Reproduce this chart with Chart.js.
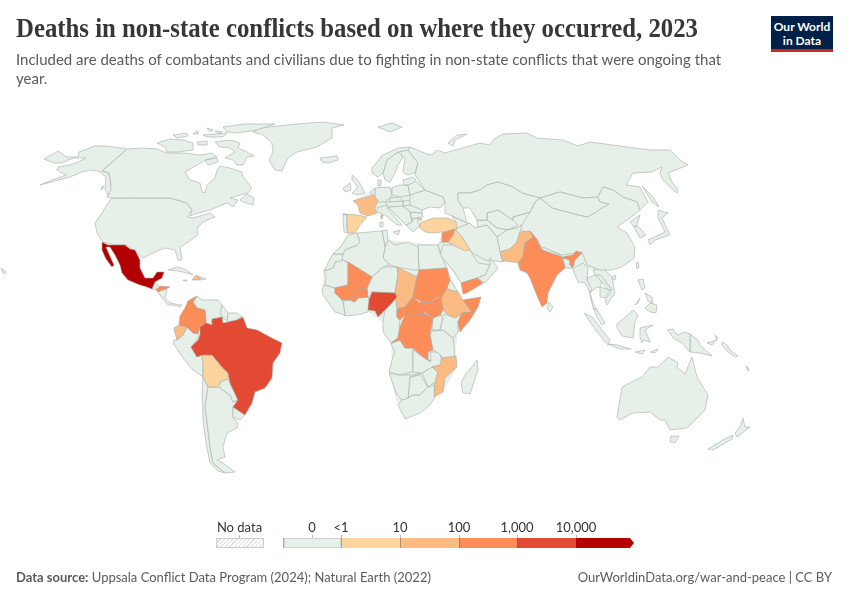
<!DOCTYPE html>
<html>
<head>
<meta charset="utf-8">
<title>Deaths in non-state conflicts</title>
<script src="https://cdn.jsdelivr.net/npm/chart.js@4/dist/chart.umd.min.js"></script>
<style>
  html, body { margin: 0; background: #fff; }
  #page { position: relative; width: 850px; height: 600px; overflow: hidden; font-family: Lato, sans-serif; }
  #map { position: absolute; left: 0; top: 0; }
  .txt { position: absolute; white-space: nowrap; color: #5b5b5b; }
  #title { left: 16px; top: 13px; font: bold 27px "Liberation Serif", serif; color: #373737; transform-origin: left top; }
  #logo { position: absolute; left: 771px; top: 16px; width: 62px; height: 36px; background: #002147; border-bottom: 3px solid #ce261e; box-sizing: border-box; color: #fff; text-align: center; font: bold 12px/13.5px Lato, sans-serif; padding-top: 4px; }
  .tick { position: absolute; transform: translateX(-50%); top: 519px; font-size: 13px; color: #333; white-space: nowrap; }
  .bin { position: absolute; top: 538px; height: 10px; box-sizing: border-box; border-left: 1px solid rgba(90,90,90,.45); }
  .stem { position: absolute; top: 535px; width: 1px; height: 3px; background: #bbb; }
  #nodata { position: absolute; left: 216px; top: 538px; width: 48px; height: 10px; box-sizing: border-box; border: 1px solid #ccc;
    background: repeating-linear-gradient(135deg, #fff, #fff 2px, #ddd 2px, #ddd 3px); }
</style>
</head>
<body>
<div id="page">
  <canvas id="map" width="850" height="600"></canvas>
  <div id="title" class="txt">Deaths in non-state conflicts based on where they occurred, 2023</div>
  <div class="txt" style="left:16px;top:50px;font-size:15px">Included are deaths of combatants and civilians due to fighting in non-state conflicts that were ongoing that</div>
  <div class="txt" style="left:16px;top:69px;font-size:15px">year.</div>
  <div id="logo">Our World<br>in Data</div>
  <div class="txt" style="left:16px;top:569px;font-size:13px"><b>Data source:</b> Uppsala Conflict Data Program (2024); Natural Earth (2022)</div>
  <div class="txt" style="right:18px;top:569px;font-size:13px">OurWorldinData.org/war-and-peace | CC BY</div>
  <div id="legend"></div>
</div>
<script>
// colour bins of the map
const binLabels = ['0', '<1', '10', '100', '1,000', '10,000'];
const binColors = ['#e6f0e8', '#fdd49e', '#fdbb84', '#fc8d59', '#e34a33', '#b30000'];

// outlines, in map units, as [x, y] pairs
// pale backing so no slivers open up between neighbouring countries
const landBacking = [
  [[353,201],[373,190],[392,188],[408,185],[425,190],[443,197],[445,202],[440,208],[430,207],[422,210],[423,217],[418,217],[420,226],[413,232],[406,225],[388,210],[387,205],[377,208]],
  [[458,193],[540,198],[609,204],[640,210],[630,218],[617,227],[635,247],[634,258],[612,270],[593,270],[588,268],[573,270],[565,268],[562,257],[533,237],[520,232],[500,252],[478,228],[477,220],[470,208],[463,208]],
  [[455,229],[478,228],[500,252],[503,262],[490,258],[498,268],[485,283],[461,283],[440,255],[438,245],[442,233]],
  [[348,235],[387,230],[388,240],[408,242],[438,245],[447,268],[458,292],[463,300],[481,297],[470,320],[458,332],[455,357],[457,367],[443,392],[435,397],[430,405],[405,419],[398,405],[389,373],[392,360],[391,343],[383,332],[383,322],[368,312],[345,316],[335,312],[322,290],[324,271],[333,254]]
];
const landNone = [
  // Alaska
  [[40,185],[52,180],[66,175],[60,172],[57,170],[58,167],[70,165],[78,162],[86,158],[75,158],[68,160],[62,163],[54,163],[44,159],[55,153],[58,151],[65,156],[67,157],[78,157],[79,152],[95,146],[107,146],[127,149],[102,171],[108,173],[110,178],[111,190],[108,195],[105,189],[106,177],[98,171],[90,170],[82,172],[70,177],[55,181]],
  // Canada
  [[127,149],[143,148],[157,149],[167,153],[183,153],[200,155],[212,153],[217,157],[205,160],[197,165],[185,172],[190,180],[200,183],[202,192],[205,193],[207,185],[215,178],[217,170],[220,166],[230,168],[242,172],[243,177],[252,188],[248,193],[237,196],[230,198],[238,200],[233,207],[227,203],[222,205],[220,206],[210,210],[195,214],[190,216],[192,210],[187,203],[170,198],[112,198],[107,197],[109,193],[111,185],[109,173],[102,171]],
  // Arctic islands
  [[215,142],[230,140],[240,143],[238,148],[247,152],[254,156],[247,157],[243,165],[237,165],[233,160],[225,158],[235,152],[230,148],[220,147]],
  [[157,143],[170,139],[183,140],[193,143],[193,150],[177,152],[167,152],[165,147]],
  [[173,135],[187,133],[188,136],[177,138]],
  [[223,127],[243,124],[275,124],[257,130],[237,133],[227,132]],
  [[203,135],[227,133],[223,137],[207,137]],
  [[197,142],[207,141],[207,145],[198,145]],
  [[195,132],[198,131],[198,134],[193,134]],
  [[207,128],[213,130],[210,132]],
  [[215,131],[222,132],[220,134]],
  [[205,160],[217,158],[218,162],[208,165]],
  // Newfoundland, Vancouver Island
  [[240,200],[247,194],[254,198],[253,205],[243,202]],
  [[102,186],[104,187],[101,190]],
  // Greenland, Iceland
  [[253,132],[260,128],[297,124],[323,122],[344,125],[332,128],[332,138],[317,147],[297,152],[288,158],[282,171],[275,170],[269,160],[273,152],[272,143],[263,135]],
  [[320,158],[337,156],[338,160],[328,163],[322,162]],
  // United States
  [[112,198],[170,198],[187,203],[192,210],[187,217],[193,218],[210,213],[215,217],[203,222],[197,228],[198,235],[187,243],[180,247],[182,260],[178,260],[175,250],[165,248],[155,252],[143,258],[137,253],[127,245],[115,245],[103,242],[97,233],[95,223],[102,213],[108,203]],
  // Central America and Caribbean
  [[147,287],[153,282],[155,282],[158,285],[156,290],[152,289]],
  [[158,292],[166,289],[167,290],[165,298],[170,303],[175,304],[182,305],[180,307],[173,305],[168,305],[162,298]],
  [[168,270],[177,267],[185,269],[193,275],[187,273],[178,271]],
  [[200,277],[206,279],[200,280]],
  [[183,280],[187,280],[187,281],[184,281]],
  // South America
  [[197,296],[202,300],[218,300],[222,305],[220,313],[223,318],[212,319],[212,325],[206,323],[205,310],[197,308],[193,302]],
  [[222,305],[228,313],[227,321],[223,318],[220,313]],
  [[227,313],[237,313],[242,317],[237,320],[228,322]],
  [[174,340],[177,340],[183,335],[187,327],[193,333],[198,334],[200,335],[191,347],[197,357],[202,355],[203,365],[203,377],[193,370],[183,358],[173,343]],
  [[220,382],[228,379],[230,383],[238,400],[233,402],[230,395],[220,388]],
  [[233,407],[245,415],[240,420],[233,417]],
  [[208,387],[218,387],[220,388],[230,395],[233,402],[238,400],[233,407],[233,417],[238,423],[237,428],[227,433],[223,447],[225,457],[217,460],[223,463],[235,472],[225,473],[213,463],[210,447],[208,430],[205,407]],
  [[203,377],[208,387],[205,407],[208,430],[210,447],[213,463],[225,473],[218,471],[210,463],[206,443],[203,420],[202,393]],
  // North and West Africa
  [[348,235],[357,233],[360,242],[357,245],[345,250],[343,254],[333,254],[341,247]],
  [[333,254],[343,254],[342,261],[335,262],[333,268],[324,271],[328,263]],
  [[324,271],[333,268],[335,262],[341,259],[348,263],[348,285],[335,288],[325,285],[326,277]],
  [[357,245],[360,242],[357,233],[382,231],[385,247],[383,258],[390,265],[383,267],[372,277],[348,262],[341,259],[343,254],[345,250]],
  [[382,231],[387,230],[388,240],[385,247]],
  [[388,240],[395,245],[408,242],[418,247],[419,270],[413,270],[397,267],[390,265],[383,258],[385,247]],
  [[418,245],[438,245],[440,253],[447,268],[419,270]],
  [[325,285],[335,288],[335,293],[342,300],[343,302],[345,315],[335,312],[323,295],[322,290]],
  [[343,301],[350,300],[355,302],[358,298],[368,297],[370,302],[368,312],[357,315],[345,316]],
  [[372,277],[383,267],[397,267],[398,275],[395,293],[372,292],[369,300],[368,297],[367,288]],
  [[390,305],[397,297],[397,308],[397,317],[400,321],[398,338],[391,343],[383,332],[383,322],[385,310]],
  // East and Southern Africa
  [[447,283],[450,280],[458,292],[450,290],[447,288]],
  [[440,315],[448,315],[455,318],[462,313],[458,322],[458,332],[453,338],[443,330],[440,330],[443,318]],
  [[433,318],[440,315],[443,318],[440,330],[432,330]],
  [[432,331],[443,330],[453,338],[455,357],[443,358],[437,352],[433,350],[430,335]],
  [[413,350],[423,357],[431,361],[430,352],[440,352],[442,365],[432,367],[422,373],[413,372],[413,360]],
  [[440,352],[443,358],[440,365],[442,365]],
  [[391,344],[400,340],[405,348],[413,348],[413,372],[400,375],[389,372],[392,360],[395,352]],
  [[389,373],[400,375],[412,375],[422,373],[410,377],[408,398],[402,400],[397,395]],
  [[410,377],[420,375],[428,387],[420,395],[413,395],[408,398]],
  [[422,373],[432,367],[438,372],[435,382],[428,387]],
  [[402,400],[408,398],[413,395],[420,395],[428,387],[434,385],[435,397],[430,405],[420,413],[405,419],[398,405]],
  [[477,360],[478,370],[470,394],[463,393],[461,383],[465,375],[472,367]],
  // Arabian peninsula and neighbours
  [[443,245],[453,245],[470,250],[478,263],[490,265],[485,275],[477,278],[461,283],[453,270],[440,255]],
  [[490,258],[498,268],[485,283],[477,278],[485,275],[490,265]],
  [[442,242],[448,242],[453,245],[443,247],[440,254],[438,245]],
  [[455,229],[470,223],[475,228],[487,225],[497,237],[500,252],[503,262],[485,260],[473,253],[470,250],[462,237]],
  [[452,216],[467,223],[470,224],[455,229],[456,222]],
  // Central and South Asia
  [[497,237],[507,230],[517,228],[522,225],[520,232],[517,242],[510,249],[500,252]],
  [[480,190],[487,185],[498,182],[513,187],[522,193],[540,198],[535,202],[530,212],[513,217],[513,220],[498,210],[487,213],[487,220],[477,220],[470,208],[463,208],[458,200],[458,193],[470,193]],
  [[478,228],[477,220],[487,220],[497,228],[508,230],[497,237],[487,225],[475,228]],
  [[487,220],[487,213],[498,210],[513,220],[518,225],[508,230],[497,228]],
  [[513,217],[530,212],[522,225],[517,228],[508,230],[513,222]],
  [[543,247],[560,255],[562,257],[542,250]],
  [[563,258],[570,260],[570,265],[573,268],[567,268],[565,268]],
  [[549,302],[553,307],[550,312],[547,308]],
  // China, Mongolia
  [[540,198],[552,208],[570,213],[587,217],[595,213],[602,208],[609,204],[600,202],[598,197],[603,187],[613,190],[623,197],[637,202],[640,210],[630,218],[617,227],[627,233],[635,247],[634,258],[622,267],[612,270],[600,270],[587,265],[582,252],[562,255],[543,248],[533,240],[522,230],[512,225],[513,217],[530,212],[535,202]],
  [[540,198],[560,192],[583,198],[598,197],[600,202],[609,204],[602,208],[595,213],[587,217],[570,213],[552,208]],
  // Russia
  [[410,147],[427,154],[432,155],[437,150],[445,153],[462,148],[473,145],[480,143],[490,145],[493,140],[503,134],[527,133],[537,138],[563,140],[578,146],[590,142],[627,147],[650,150],[670,150],[680,160],[688,165],[668,173],[672,182],[678,190],[677,193],[668,185],[663,180],[660,173],[662,167],[652,172],[633,173],[626,185],[640,187],[648,202],[640,210],[637,202],[623,197],[613,190],[603,187],[598,197],[583,198],[560,192],[540,198],[522,193],[513,187],[498,182],[487,185],[480,190],[470,193],[458,193],[458,200],[463,208],[467,223],[452,216],[445,213],[445,202],[443,197],[425,190],[415,175],[418,163],[408,150]],
  [[448,143],[457,135],[467,134],[455,140],[453,146]],
  // Europe
  [[378,127],[392,123],[402,127],[390,132]],
  [[372,168],[383,155],[398,148],[410,147],[408,150],[398,152],[387,160],[383,173],[378,177],[372,173]],
  [[387,160],[398,152],[403,157],[398,165],[395,173],[390,182],[385,180],[383,173]],
  [[398,152],[408,150],[418,163],[415,173],[407,175],[403,172],[405,158]],
  [[352,175],[358,180],[365,193],[357,195],[352,193],[358,187],[352,180]],
  [[343,188],[350,183],[351,190],[345,192]],
  [[378,180],[381,180],[381,186],[378,186]],
  [[403,180],[413,177],[416,180],[415,182],[408,185],[404,185]],
  [[408,185],[415,180],[425,190],[410,195]],
  [[392,188],[398,185],[408,185],[410,195],[400,197],[392,195]],
  [[375,188],[390,187],[392,195],[390,198],[385,202],[375,202]],
  [[370,192],[375,188],[375,200],[373,195]],
  [[410,195],[425,190],[443,197],[445,202],[440,208],[430,207],[422,210],[410,205]],
  [[390,198],[400,197],[403,201],[390,202]],
  [[385,202],[403,201],[403,206],[388,207]],
  [[403,201],[412,200],[410,205],[403,206]],
  [[388,207],[403,206],[410,212],[412,222],[406,225]],
  [[403,206],[410,205],[422,209],[422,213],[410,212]],
  [[410,212],[422,213],[423,217],[412,219]],
  [[412,219],[418,218],[418,223],[420,226],[413,232],[406,225],[412,222]],
  [[377,208],[387,205],[388,210],[402,225],[397,225],[385,215],[378,213]],
  [[393,232],[400,230],[398,235]],
  [[380,222],[383,222],[383,227],[380,227]],
  [[343,214],[347,215],[347,227],[348,233],[344,232],[343,218]],
  // Southeast Asia
  [[576,267],[583,263],[588,268],[587,280],[592,290],[590,292],[585,283],[578,282],[573,270]],
  [[587,278],[595,275],[602,282],[600,287],[595,288],[590,293],[593,303],[597,310],[593,308],[590,295]],
  [[593,270],[603,268],[612,277],[615,293],[607,305],[605,300],[612,290],[603,278],[600,275],[595,275]],
  [[600,287],[610,290],[605,298],[600,297]],
  [[595,275],[600,275],[603,278],[612,290],[608,290],[602,282]],
  [[593,308],[597,310],[605,323],[602,325],[597,317]],
  [[584,313],[592,317],[610,340],[608,345],[598,333]],
  [[608,344],[617,345],[631,349],[620,349]],
  [[617,324],[628,315],[633,310],[638,315],[635,322],[633,338],[622,336],[617,328]],
  [[640,328],[653,325],[645,330],[650,342],[643,340],[642,343],[640,337]],
  [[638,280],[643,279],[645,288],[642,290]],
  [[645,293],[652,297],[653,303],[648,301]],
  [[645,308],[650,303],[657,305],[656,313],[650,312]],
  [[635,305],[640,298],[638,303]],
  [[636,263],[638,262],[639,267],[637,269]],
  [[612,277],[616,275],[615,280],[612,279]],
  [[635,352],[645,350],[642,354]],
  [[650,352],[658,349],[655,353]],
  // Japan, Korea, Sakhalin
  [[658,210],[668,213],[662,218],[670,235],[655,240],[650,245],[648,240],[665,232],[658,218]],
  [[642,186],[653,197],[659,207],[652,202]],
  [[630,222],[640,215],[637,225],[634,227]],
  [[634,227],[638,226],[646,235],[640,238]],
  // Oceania
  [[667,330],[673,329],[677,335],[685,332],[690,334],[690,352],[682,343],[673,338],[670,333]],
  [[690,334],[698,340],[700,345],[712,356],[700,353],[690,352]],
  [[707,343],[717,340],[715,335],[718,338],[712,345]],
  [[722,342],[727,345],[730,350],[738,356],[735,357],[728,352],[722,345]],
  [[617,417],[622,387],[642,377],[650,367],[658,367],[668,357],[678,363],[677,367],[685,374],[692,357],[697,377],[708,395],[705,410],[687,428],[670,430],[665,420],[660,420],[650,412],[633,413],[620,420]],
  [[671,436],[679,436],[675,443],[670,442]],
  [[743,418],[745,427],[750,427],[737,437],[735,433],[740,427]],
  [[733,435],[732,439],[713,450],[708,449],[723,440]],
  [[746,366],[748,367],[749,371],[747,370]],
  [[1,268],[6,272],[4,274]]
];
const landUnder10 = [
  // Bolivia
  [[202,355],[212,355],[218,362],[222,368],[230,375],[228,379],[220,382],[218,387],[208,387],[203,377],[203,365]],
  // Spain
  [[343,214],[358,215],[367,217],[360,225],[355,233],[348,233],[347,227],[347,215]],
  // Turkey
  [[420,223],[433,218],[448,218],[456,222],[457,229],[443,232],[433,233],[425,232],[420,228]],
  [[418,217],[422,219],[420,221]],
  // Iraq
  [[453,230],[455,229],[462,237],[470,250],[465,251],[453,245],[448,242],[453,235]]
];
const land10to100 = [
  // Ecuador
  [[179,325],[187,327],[183,335],[177,340],[175,333],[174,328]],
  // Haiti
  [[192,280],[196,275],[200,277],[200,280]],
  // France, Corsica
  [[353,201],[373,195],[378,200],[375,208],[377,213],[368,216],[360,213],[358,205]],
  [[381,215],[383,215],[382,219],[381,219]],
  // Chad
  [[397,267],[417,277],[413,297],[405,307],[397,308],[395,293],[398,275]],
  // Ethiopia
  [[450,290],[458,292],[463,300],[472,312],[462,313],[455,318],[448,315],[443,310],[441,298],[447,288]],
  // Mozambique
  [[442,358],[456,356],[457,367],[445,378],[443,392],[434,397],[435,382],[438,372],[432,367],[440,365]],
  // Pakistan
  [[500,252],[510,249],[517,242],[520,232],[530,231],[533,237],[525,243],[523,257],[518,263],[513,262],[503,261]]
];
const land100to1000 = [
  // Honduras
  [[156,290],[160,286],[170,287],[166,289],[162,290],[158,292]],
  // Colombia
  [[197,296],[193,298],[188,301],[185,308],[180,316],[179,325],[187,327],[193,333],[198,334],[200,327],[206,323],[205,310],[197,308],[193,302]],
  // Mali, Burkina Faso
  [[348,262],[372,277],[367,288],[357,290],[350,300],[342,300],[335,293],[335,288],[348,285]],
  [[350,300],[357,290],[367,288],[368,297],[358,298],[355,302]],
  // Sudan, South Sudan
  [[419,270],[447,268],[450,280],[447,288],[441,298],[437,297],[430,303],[422,302],[415,298],[413,297],[417,277]],
  [[420,302],[430,303],[437,298],[441,298],[443,310],[440,315],[433,318],[427,314],[420,307]],
  // Central African Republic
  [[397,309],[405,307],[413,297],[420,303],[425,314],[415,315],[405,315],[400,320],[397,317]],
  // Democratic Republic of Congo
  [[405,315],[415,315],[425,314],[433,318],[430,335],[433,350],[428,352],[428,360],[431,362],[423,357],[415,350],[413,348],[405,348],[400,340],[391,343],[398,338],[400,327]],
  // Somalia
  [[463,300],[481,297],[478,307],[470,320],[460,332],[458,322],[462,313],[472,312]],
  // Yemen, Syria
  [[461,283],[477,278],[483,283],[467,293],[463,294]],
  [[442,233],[455,229],[453,235],[448,242],[442,242]],
  // India
  [[530,231],[537,239],[542,250],[562,257],[565,268],[557,275],[548,293],[547,303],[542,307],[538,298],[530,278],[527,273],[520,270],[518,263],[523,257],[525,243],[533,237]],
  [[562,257],[573,255],[576,251],[582,253],[575,260],[573,268],[570,265],[570,260],[563,258]]
];
const land1000to10000 = [
  // Brazil
  [[200,327],[206,323],[212,325],[212,319],[222,317],[223,323],[228,322],[237,320],[243,317],[247,328],[257,330],[270,337],[282,343],[280,353],[273,363],[272,378],[265,388],[255,392],[252,403],[245,415],[233,407],[238,400],[230,383],[228,373],[222,367],[218,362],[212,355],[202,355],[197,357],[191,347],[198,340],[200,335]],
  // Nigeria
  [[372,292],[395,293],[397,297],[390,305],[385,310],[378,317],[375,311],[368,310],[369,300]]
];
const landOver10000 = [
  // Mexico
  [[102,242],[108,245],[125,245],[130,249],[135,250],[140,260],[140,268],[145,278],[153,278],[157,272],[164,272],[162,278],[155,282],[152,289],[147,287],[140,285],[128,280],[122,273],[120,265],[115,255],[110,247],[106,247],[109,254],[114,265],[112,267],[106,259],[102,250]]
];

// strongest bin first: Chart.js paints the first dataset last, so it stays on top
const groups = [landOver10000, land1000to10000, land100to1000, land10to100, landUnder10, landNone, landBacking];
const groupColors = [binColors[5], binColors[4], binColors[3], binColors[2], binColors[1], binColors[0], binColors[0]];

const datasets = [];
groups.forEach((shapes, i) => {
  shapes.forEach(shape => {
    const closed = shape.concat([shape[0]]);
    datasets.push({
      data: closed.map(p => ({ x: p[0], y: p[1] })),
      showLine: true,
      fill: 'shape',
      tension: 0.001, // a zero tension makes Chart.js merge points on the same pixel column
      pointRadius: 0,
      borderWidth: shapes === landBacking ? 0 : 0.6,
      borderColor: '#a3aaa5',
      backgroundColor: groupColors[i],
      borderJoinStyle: 'round',
      clip: false
    });
  });
});

new Chart(document.getElementById('map'), {
  type: 'scatter',
  data: { datasets: datasets },
  options: {
    responsive: false,
    animation: false,
    layout: { padding: 0 },
    plugins: { legend: { display: false }, tooltip: { enabled: false } },
    scales: {
      x: { type: 'linear', min: 0, max: 850, display: false },
      y: { type: 'linear', min: 0, max: 600, reverse: true, display: false }
    }
  }
});

// legend under the map
const legendEl = document.getElementById('legend');
const binEdges = [283, 341, 400, 459, 517, 576, 634];
let html = '<div class="tick" style="left:239.5px">No data</div><div class="stem" style="left:239px"></div><div id="nodata"></div>';
binColors.forEach((color, i) => {
  const left = binEdges[i];
  const width = binEdges[i + 1] - left;
  const arrow = i === binColors.length - 1 ? 'border:0;clip-path:polygon(0 0,calc(100% - 4px) 0,100% 50%,calc(100% - 4px) 100%,0 100%);' : '';
  const edge = i === 0 ? 'box-shadow:inset 0 0 0 1px #cfd6d1;' : '';
  html += `<div class="bin" style="left:${left}px;width:${width}px;background:${color};${arrow}${edge}"></div>`;
});
binLabels.forEach((label, i) => {
  const at = i === 0 ? 312 : binEdges[i];
  html += `<div class="tick" style="left:${at}px">${label.replace('<', '&lt;')}</div><div class="stem" style="left:${at}px"></div>`;
});
legendEl.innerHTML = html;

// stretch the title to the width it has in the original
const titleEl = document.getElementById('title');
titleEl.style.transform = `scaleX(${682 / titleEl.offsetWidth})`;
</script>
</body>
</html>
